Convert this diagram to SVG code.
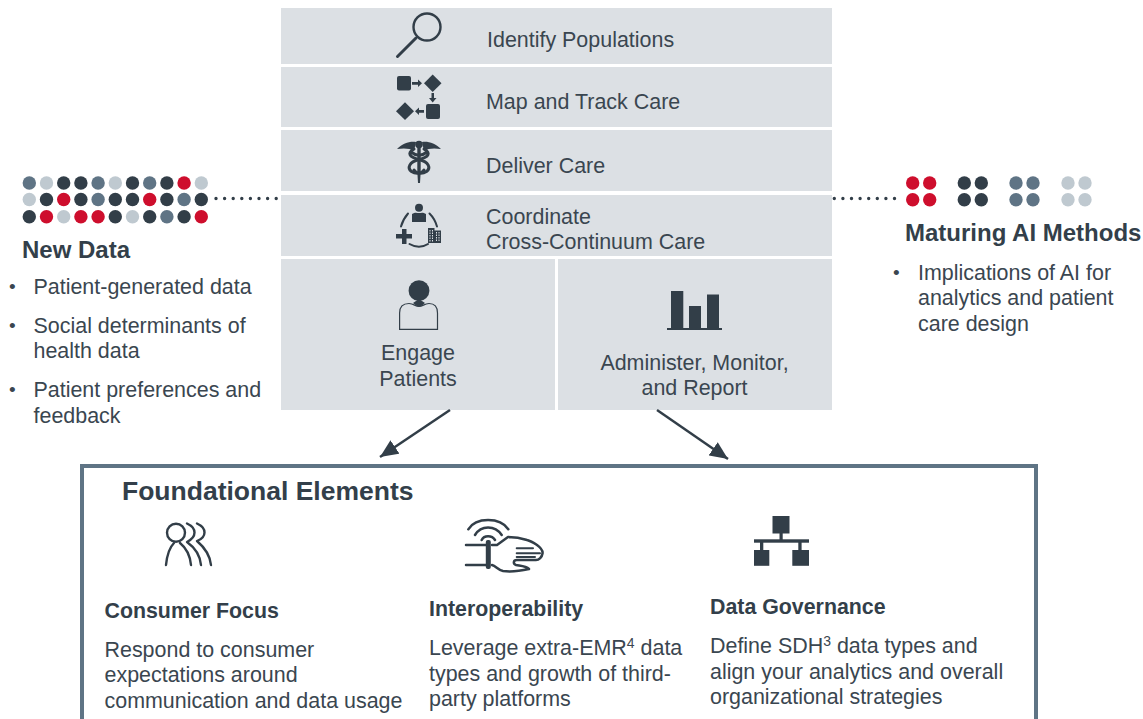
<svg xmlns="http://www.w3.org/2000/svg" width="1143" height="719" viewBox="0 0 1143 719">
<style>
text{font-family:"Liberation Sans",Arial,sans-serif;font-size:21.45px;fill:#3a4650}
.h{font-weight:700;fill:#333f4a;font-size:21.35px}
.h2{font-size:24px}
.h1{font-size:26.5px}
.b{font-size:19px}
.sup{font-size:14px}
.p{fill:#dce0e4}
.r{fill:#ce0e2d}.d{fill:#323e48}.s{fill:#5f7485}.l{fill:#bfc9d0}
.o{fill:#323e48}
.li{fill:none;stroke:#323e48;stroke-linecap:round;stroke-linejoin:round}
</style>
<defs>
<marker id="ah" markerUnits="userSpaceOnUse" markerWidth="19" markerHeight="17" refX="18" refY="8.500" orient="auto"><path d="M0 0.500L18 8.500L0 16.500Z" fill="#323e48"/></marker>
</defs>
<rect width="1143" height="719" fill="#fff"/>
<g id="identify"><rect class="p" x="281" y="8" width="551" height="56"/>
<circle class="li" cx="427" cy="27" r="13.500" stroke-width="2.400"/><path class="li" d="M416 38L397.500 56.500" stroke-width="3"/>
<text x="487" y="47">Identify Populations</text></g>
<g id="map"><rect class="p" x="281" y="67" width="551" height="60"/>
<rect class="o" x="397" y="76" width="14" height="14.500" rx="2"/><path class="o" d="M432.700 74.500L441.500 83.300L432.700 92L424 83.300Z"/>
<path class="o" d="M412 82H418V79.500L422 83.300L418 87V84.700H412Z"/><path class="o" d="M431.500 93H434V98H436.500L432.700 102.500L429 98H431.500Z"/>
<path class="o" d="M405 102.300L414 111.300L405 120L396 111.300Z"/><rect class="o" x="426" y="104" width="14" height="15" rx="2"/>
<path class="o" d="M415 111.300L419 107.500V110H424V112.700H419V115Z"/>
<text x="486" y="109">Map and Track Care</text></g>
<g id="deliver"><rect class="p" x="281" y="130" width="551" height="61"/>
<path class="o" d="M397 149C403 143 410 141 416 142L414 151C410 148 403 148 397 149Z"/><path class="o" d="M441 149C435 143 428 141 422 142L424 151C428 148 435 148 441 149Z"/>
<circle class="o" cx="419" cy="144.500" r="3.800"/><path class="o" d="M417.300 146H420.700V172L420 183H418L417.300 172Z"/>
<path class="li" stroke-width="3" d="M414 149C407 153 409 157 419 159.500C429 162 431 168 426.500 171.500C422 174.500 416 173.500 414 170M424 149C431 153 429 157 419 159.500C409 162 407 168 411.500 171.500C416 174.500 422 173.500 424 170M411 152C416 156 422 156 427 152"/>
<text x="486" y="173">Deliver Care</text></g>
<g id="coordinate"><rect class="p" x="281" y="195" width="551" height="61"/>
<circle class="o" cx="419" cy="207.700" r="4"/><path class="o" d="M412 214C415 212 417 213 419 213C421 213 423 212 426 214V222H412Z"/>
<path class="li" stroke-width="2" d="M401 226.500C402.500 221 405 217 408 213.500M429.500 213.500C433 217 435.500 221 437 226.500M409.500 244C415 247.500 423 247.500 428 244"/>
<path class="o" d="M402 229H406.500V234H412V238.500H406.500V244H402V238.500H396V234H402Z"/>
<path class="o" d="M428 228H434.500V230.500H441V243H428Z"/>
<path stroke="#dce0e4" stroke-width="1" stroke-dasharray="1.500 1" d="M430 230V242M432.500 230V242M436.500 232V242M439 232V242" fill="none"/>
<text x="486" y="224">Coordinate</text><text x="486" y="249">Cross-Continuum Care</text></g>
<g id="engage"><rect class="p" x="281" y="259" width="274" height="151"/>
<path fill="none" stroke="#323e48" stroke-width="1.200" d="M399.600 329.300V313C399.600 306 404 303.500 409 303.500C414 303.500 415 306.500 419 306.500C423 306.500 424 303.500 429 303.500C434 303.500 437.500 306 437.500 313V329.300Z"/>
<path class="o" d="M413 303C415 305 417 306.300 419 306.500C421 306.300 423 305 425 303L419 299Z"/>
<circle class="o" cx="419" cy="290.700" r="10.400"/>
<text x="418" y="360" text-anchor="middle">Engage</text><text x="418" y="386" text-anchor="middle">Patients</text></g>
<g id="administer"><rect class="p" x="558" y="259" width="274" height="151"/>
<path class="o" d="M671 291H683.300V328H689V306H701V328H707V294.500H719V328H722V330H667V328H671Z"/>
<text x="694.500" y="370" text-anchor="middle">Administer, Monitor,</text><text x="694.500" y="395" text-anchor="middle">and Report</text></g>
<g id="new-data">
<g class="s"><circle cx="29.300" cy="183" r="6.700"/></g><g class="l"><circle cx="46.500" cy="183" r="6.700"/></g><g class="d"><circle cx="63.700" cy="183" r="6.700"/><circle cx="80.900" cy="183" r="6.700"/></g><g class="s"><circle cx="98.100" cy="183" r="6.700"/></g><g class="l"><circle cx="115.300" cy="183" r="6.700"/></g><g class="d"><circle cx="132.500" cy="183" r="6.700"/></g><g class="s"><circle cx="149.700" cy="183" r="6.700"/></g><g class="d"><circle cx="166.900" cy="183" r="6.700"/></g><g class="r"><circle cx="184.100" cy="183" r="6.700"/></g><g class="l"><circle cx="201.300" cy="183" r="6.700"/></g>
<g class="l"><circle cx="29.300" cy="199.500" r="6.700"/></g><g class="d"><circle cx="46.500" cy="199.500" r="6.700"/></g><g class="r"><circle cx="63.700" cy="199.500" r="6.700"/></g><g class="d"><circle cx="80.900" cy="199.500" r="6.700"/></g><g class="s"><circle cx="98.100" cy="199.500" r="6.700"/></g><g class="d"><circle cx="115.300" cy="199.500" r="6.700"/><circle cx="132.500" cy="199.500" r="6.700"/></g><g class="r"><circle cx="149.700" cy="199.500" r="6.700"/></g><g class="d"><circle cx="166.900" cy="199.500" r="6.700"/></g><g class="s"><circle cx="184.100" cy="199.500" r="6.700"/></g><g class="d"><circle cx="201.300" cy="199.500" r="6.700"/></g>
<g class="d"><circle cx="29.300" cy="216.700" r="6.700"/></g><g class="r"><circle cx="46.500" cy="216.700" r="6.700"/></g><g class="l"><circle cx="63.700" cy="216.700" r="6.700"/></g><g class="r"><circle cx="80.900" cy="216.700" r="6.700"/><circle cx="98.100" cy="216.700" r="6.700"/></g><g class="d"><circle cx="115.300" cy="216.700" r="6.700"/></g><g class="l"><circle cx="132.500" cy="216.700" r="6.700"/></g><g class="d"><circle cx="149.700" cy="216.700" r="6.700"/></g><g class="s"><circle cx="166.900" cy="216.700" r="6.700"/></g><g class="d"><circle cx="184.100" cy="216.700" r="6.700"/></g><g class="r"><circle cx="201.300" cy="216.700" r="6.700"/></g>
<text class="h h2" x="22" y="258">New Data</text>
<text class="b" x="9" y="293">•</text><text x="33.500" y="294">Patient-generated data</text>
<text class="b" x="9" y="332">•</text><text x="33.500" y="333">Social determinants of</text><text x="33.500" y="358">health data</text>
<text class="b" x="9" y="396">•</text><text x="33.500" y="397">Patient preferences and</text><text x="33.500" y="423">feedback</text></g>
<g id="ai-methods">
<g class="r"><circle cx="912.700" cy="183" r="6.700"/><circle cx="929.700" cy="183" r="6.700"/><circle cx="912.700" cy="199.700" r="6.700"/><circle cx="929.700" cy="199.700" r="6.700"/></g>
<g class="d"><circle cx="964.300" cy="183" r="6.700"/><circle cx="981.300" cy="183" r="6.700"/><circle cx="964.300" cy="199.700" r="6.700"/><circle cx="981.300" cy="199.700" r="6.700"/></g>
<g class="s"><circle cx="1016" cy="183" r="6.700"/><circle cx="1033" cy="183" r="6.700"/><circle cx="1016" cy="199.700" r="6.700"/><circle cx="1033" cy="199.700" r="6.700"/></g>
<g class="l"><circle cx="1068" cy="183" r="6.700"/><circle cx="1085" cy="183" r="6.700"/><circle cx="1068" cy="199.700" r="6.700"/><circle cx="1085" cy="199.700" r="6.700"/></g>
<text class="h h2" x="905" y="241">Maturing AI Methods</text>
<text class="b" x="893" y="279">•</text><text x="918" y="280">Implications of AI for</text><text x="918" y="305">analytics and patient</text><text x="918" y="331">care design</text></g>
<g id="connectors">
<path d="M216 198.500H278" fill="none" stroke="#323e48" stroke-width="3.400" stroke-linecap="round" stroke-dasharray="0 8.600"/>
<path d="M834.300 198.500H896" fill="none" stroke="#323e48" stroke-width="3.400" stroke-linecap="round" stroke-dasharray="0 8.600"/>
<path d="M450 410L380 457" fill="none" stroke="#323e48" stroke-width="2.500" marker-end="url(#ah)"/>
<path d="M657 410L728 459" fill="none" stroke="#323e48" stroke-width="2.500" marker-end="url(#ah)"/>
</g>
<g id="foundational"><path d="M82 719V466H1036V719" fill="none" stroke="#5f7485" stroke-width="4"/>
<text class="h h1" x="122" y="500">Foundational Elements</text></g>
<g id="consumer">
<g class="li" stroke-width="2.400"><circle cx="176" cy="532.700" r="9"/><path d="M166 565C167 555 170 547 174 543M180 543C185 547 190 555 191 565M187 523.500C197 528 197 537 187 542C194 547 200 555 201 565M197 523.500C207 528 207 537 197 541C204 547 210 555 211 565"/></g>
<text class="h" x="104.500" y="618">Consumer Focus</text>
<text x="104.500" y="657">Respond to consumer</text><text x="104.500" y="682">expectations around</text><text x="104.500" y="708">communication and data usage</text></g>
<g id="interoperability">
<g class="li" stroke-width="2.500"><path d="M468.300 529.300C476 517 500 517 508.300 529.300M475 535C481 525 495 525 501.700 535M481.700 540C484 535 492 535 495 540"/>
<path d="M466 545H486M466 565H486M492 545H497L508 537C514 537 521 538 527 540C531 541 534 543 537 545C541 548 543 551 542.500 553.500C542 557 539 560 536 560H517C513 560 513 564 516 565C522 566 526 566 529 569C520 571 510 572 503 571C498 570 496 566 492 565"/>
<path d="M516.700 548.300H533M516.700 553.300H540M516.700 557H535" stroke-width="2"/></g>
<rect class="o" x="485.800" y="540" width="5" height="29" rx="2"/>
<text class="h" x="429" y="616">Interoperability</text>
<text x="429" y="655">Leverage extra-EMR<tspan class="sup" dy="-7">4</tspan><tspan dy="7"> data</tspan></text><text x="429" y="681">types and growth of third-</text><text x="429" y="706">party platforms</text></g>
<g id="governance">
<rect class="o" x="772.500" y="516" width="17" height="17.500"/><rect class="o" x="779.500" y="533" width="3.200" height="7"/><rect class="o" x="754" y="539.300" width="55" height="3.400"/>
<rect class="o" x="760" y="542" width="3.300" height="8"/><rect class="o" x="798.300" y="542" width="3.300" height="8"/>
<rect class="o" x="754" y="550" width="15.300" height="15.800"/><rect class="o" x="792.300" y="550" width="16.700" height="15.800"/>
<text class="h" x="710" y="614">Data Governance</text>
<text x="710" y="653">Define SDH<tspan class="sup" dy="-7">3</tspan><tspan dy="7"> data types and</tspan></text><text x="710" y="679">align your analytics and overall</text><text x="710" y="704">organizational strategies</text></g>
</svg>
